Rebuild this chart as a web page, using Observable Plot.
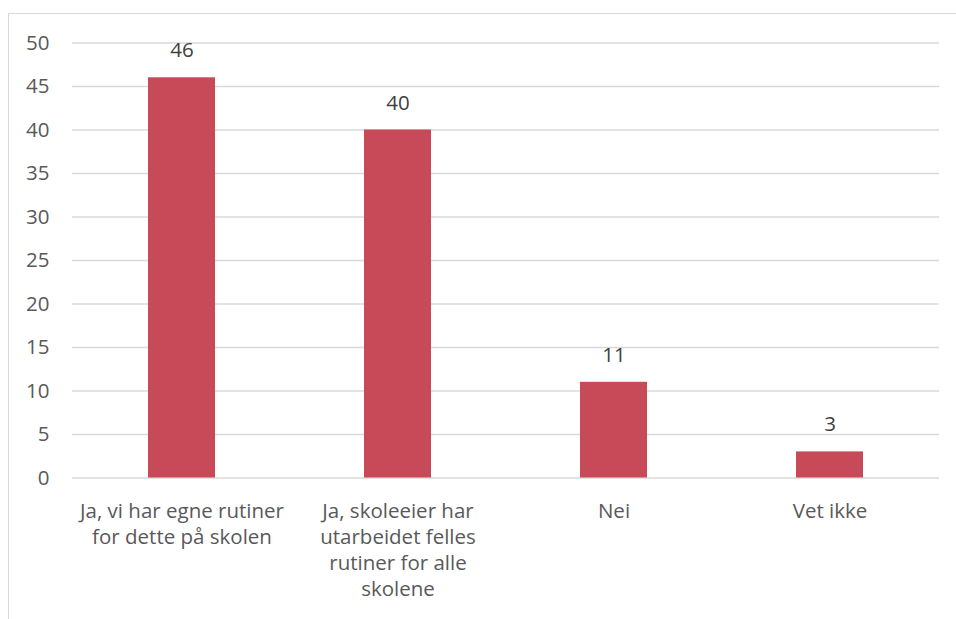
<!DOCTYPE html>
<html>
<head>
<meta charset="utf-8">
<script src="https://cdn.jsdelivr.net/npm/d3@7"></script>
<script src="https://cdn.jsdelivr.net/npm/@observablehq/plot@0.6"></script>
<style>
  html, body { margin: 0; padding: 0; background: #fff; }
  #wrap { position: relative; width: 956px; height: 619px; overflow: hidden; }
  #frame { position: absolute; left: 8px; top: 13px; width: 1000px; height: 700px; border: 1px solid #d9d9d9; box-sizing: border-box; }
  #chart { position: absolute; left: 0; top: 0; }
</style>
</head>
<body>
<div id="wrap"><div id="frame"></div><div id="chart"></div></div>
<script>
const categories = ["Ja, vi har egne rutiner for dette på skolen", "Ja, skoleeier har utarbeidet felles rutiner for alle skolene", "Nei", "Vet ikke"];
const values = [46, 40, 11, 3];
const tickLabels = ["Ja, vi har egne rutiner\nfor dette på skolen", "Ja, skoleeier har\nutarbeidet felles\nrutiner for alle\nskolene", "Nei", "Vet ikke"];
const yTicks = [0, 5, 10, 15, 20, 25, 30, 35, 40, 45, 50];

const data = categories.map((c, i) => ({category: c, value: values[i]}));
const labelOf = new Map(categories.map((c, i) => [c, tickLabels[i]]));

const chart = Plot.plot({
  width: 956,
  height: 619,
  marginTop: 42.5,
  marginBottom: 141.5,
  marginLeft: 72,
  marginRight: 17,
  style: { fontFamily: "'Open Sans', sans-serif", fontSize: "20.5px", background: "transparent" },
  x: { domain: categories, paddingInner: 0.69, paddingOuter: 0.345, align: 0.5, label: null },
  y: { domain: [0, 50], label: null },
  marks: [
    Plot.gridY(yTicks, { stroke: "#d9d9d9", strokeOpacity: 1, strokeWidth: 1.3 }),
    Plot.barY(data, { x: "category", y: "value", fill: "#c84a59" }),
    Plot.text(data, { x: "category", y: "value", text: d => String(d.value), dy: -27, fill: "#404040", fontSize: 20.5 }),
    Plot.axisY(yTicks, { tickSize: 0, tickPadding: 23, fill: "#595959", fontSize: 20.5, label: null }),
    Plot.axisX({ tickSize: 0, tickPadding: 21, fill: "#595959", fontSize: 20.5, lineHeight: 1.27, tickFormat: d => labelOf.get(d), label: null })
  ]
});
document.getElementById("chart").appendChild(chart);
</script>
</body>
</html>
